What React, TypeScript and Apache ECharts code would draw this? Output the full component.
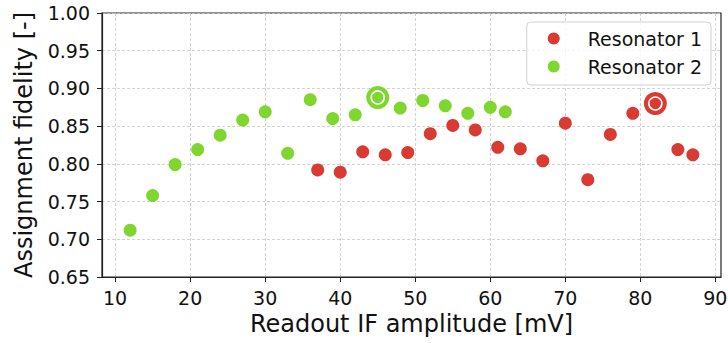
import React, { useEffect, useRef } from "react";
import * as echarts from "echarts";

const xTicks = [10, 20, 30, 40, 50, 60, 70, 80, 90];

const res2X = [12, 15, 18, 21, 24, 27, 30, 33, 36, 39, 42, 45, 48, 51, 54, 57, 60, 62];
const res2Y = [0.712, 0.758, 0.799, 0.819, 0.838, 0.858, 0.869, 0.814, 0.885, 0.860, 0.865, 0.888, 0.874, 0.884, 0.877, 0.867, 0.875, 0.869];

const res1X = [37, 40, 43, 46, 49, 52, 55, 58, 61, 64, 67, 70, 73, 76, 79, 82, 85, 87];
const res1Y = [0.792, 0.789, 0.816, 0.812, 0.815, 0.840, 0.851, 0.845, 0.822, 0.820, 0.804, 0.854, 0.779, 0.839, 0.867, 0.880, 0.819, 0.812];

const best1 = [82, 0.880];
const best2 = [45, 0.888];

const RED = "#d93a32";
const GREEN = "#7ed62f";
const FONT = "DejaVu Sans";

export default function App() {
  const ref = useRef<HTMLDivElement>(null);
  useEffect(() => {
    document.body.style.margin = "0";
    if (!ref.current) return;
    const chart = echarts.init(ref.current, undefined, { renderer: "svg" });
    const pts = (xs: number[], ys: number[]) => xs.map((x, i) => [x, ys[i]]);
    chart.setOption({
      animation: false,
      textStyle: { fontFamily: FONT },
      grid: {
        left: 102,
        right: 7,
        top: 13,
        bottom: 66,
        containLabel: false,
        outerBoundsMode: "none",
        show: true,
        borderColor: "#222",
        borderWidth: 1.2,
      },
      legend: {
        data: ["Resonator 1", "Resonator 2"],
        orient: "vertical",
        right: 17,
        top: 22,
        padding: [7, 9, 9, 21],
        itemGap: 9,
        itemWidth: 12,
        itemHeight: 12,
        icon: "circle",
        borderColor: "#d0d0d0",
        borderWidth: 1,
        borderRadius: 4,
        backgroundColor: "rgba(255,255,255,0.8)",
        textStyle: { fontFamily: FONT, fontSize: 19, color: "#111", padding: [0, 0, 0, 23] },
      },
      xAxis: {
        type: "value",
        min: 8.25,
        max: 90.75,
        name: "Readout IF amplitude [mV]",
        nameLocation: "middle",
        nameGap: 29,
        nameTextStyle: { fontFamily: FONT, fontSize: 24, color: "#111" },
        axisLine: { show: true, lineStyle: { color: "#222", width: 1.2 } },
        axisTick: { show: true, customValues: xTicks, length: 5, lineStyle: { color: "#222" } },
        axisLabel: { customValues: xTicks, fontFamily: FONT, fontSize: 19, color: "#111", margin: 11 },
        splitLine: { show: true, lineStyle: { type: [3, 2], color: "#c8c8c8", width: 0.8 } },
      },
      yAxis: {
        type: "value",
        min: 0.65,
        max: 1.0,
        interval: 0.05,
        name: "Assignment fidelity [-]",
        nameLocation: "middle",
        nameGap: 66,
        nameTextStyle: { fontFamily: FONT, fontSize: 24, color: "#111" },
        axisLine: { show: true, lineStyle: { color: "#222", width: 1.2 } },
        axisTick: { show: true, length: 5, lineStyle: { color: "#222" } },
        axisLabel: {
          fontFamily: FONT,
          fontSize: 19,
          color: "#111",
          margin: 12,
          formatter: (v: number) => v.toFixed(2),
        },
        splitLine: { show: true, lineStyle: { type: [3, 2], color: "#c8c8c8", width: 0.8 } },
      },
      series: [
        {
          name: "Resonator 1",
          type: "scatter",
          data: pts(res1X, res1Y),
          symbolSize: 13,
          itemStyle: { color: RED, opacity: 1 },
          z: 3,
        },
        {
          name: "Resonator 2",
          type: "scatter",
          data: pts(res2X, res2Y),
          symbolSize: 13,
          itemStyle: { color: GREEN, opacity: 1 },
          z: 3,
        },
        {
          name: "best1outer",
          type: "scatter",
          data: [best1],
          symbolSize: 23,
          itemStyle: { color: RED, opacity: 1 },
          z: 4,
        },
        {
          name: "best1inner",
          type: "scatter",
          data: [best1],
          symbolSize: 13,
          itemStyle: { color: RED, borderColor: "#fff", borderWidth: 1.6, opacity: 1 },
          z: 5,
        },
        {
          name: "best2outer",
          type: "scatter",
          data: [best2],
          symbolSize: 23,
          itemStyle: { color: GREEN, opacity: 1 },
          z: 4,
        },
        {
          name: "best2inner",
          type: "scatter",
          data: [best2],
          symbolSize: 13,
          itemStyle: { color: GREEN, borderColor: "#fff", borderWidth: 1.6, opacity: 1 },
          z: 5,
        },
      ],
    });
    return () => chart.dispose();
  }, []);
  return <div ref={ref} style={{ width: 728, height: 343 }} />;
}
